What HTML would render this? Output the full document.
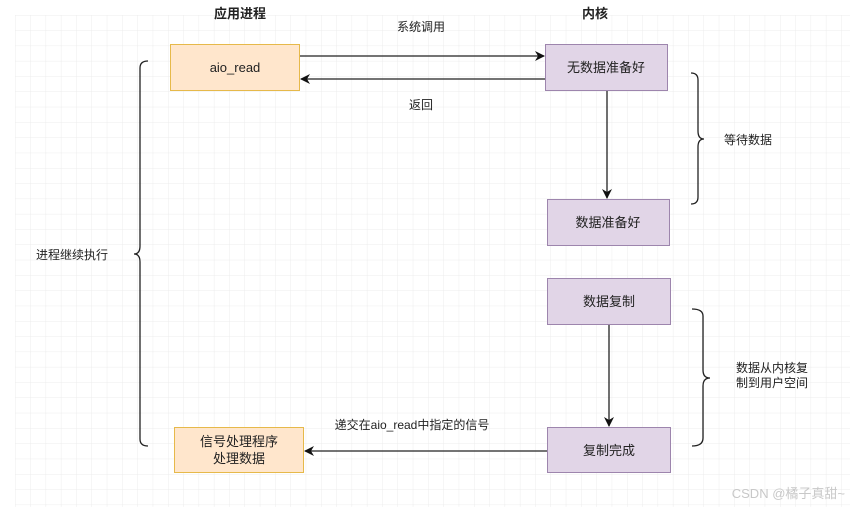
<!DOCTYPE html>
<html><head><meta charset="utf-8"><style>
html,body{margin:0;padding:0;background:#fff;}
body{width:850px;height:507px;overflow:hidden;}
svg text{font-family:"Liberation Sans","Noto Sans CJK SC",sans-serif;fill:#222;}
</style></head><body>
<svg width="850" height="507" viewBox="0 0 850 507" xmlns="http://www.w3.org/2000/svg">
<defs>
<pattern id="g" x="15" y="15" width="15.3" height="15.3" patternUnits="userSpaceOnUse">
<path d="M0 0H15.3M0 0V15.3" stroke="#ececec" stroke-width="1" fill="none"/>
</pattern>
<marker id="a" markerWidth="10" markerHeight="10" refX="9" refY="5" orient="auto" markerUnits="userSpaceOnUse">
<path d="M0 0L10 5L0 10L3 5Z" fill="#111"/>
</marker>
</defs>
<rect x="15" y="15" width="835" height="492" fill="url(#g)"/>

<text x="240" y="18" font-size="13" font-weight="bold" text-anchor="middle">应用进程</text>
<text x="595" y="18" font-size="13" font-weight="bold" text-anchor="middle">内核</text>

<rect x="170.5" y="44.5" width="129" height="46" fill="#ffe6cc" stroke="#e6b94a"/>
<text x="235" y="72" font-size="13" text-anchor="middle">aio_read</text>

<rect x="545.5" y="44.5" width="122" height="46" fill="#e1d5e7" stroke="#9d85ad"/>
<text x="606" y="72" font-size="13" text-anchor="middle">无数据准备好</text>

<rect x="547.5" y="199.5" width="122" height="46" fill="#e1d5e7" stroke="#9d85ad"/>
<text x="608" y="227" font-size="13" text-anchor="middle">数据准备好</text>

<rect x="547.5" y="278.5" width="123" height="46" fill="#e1d5e7" stroke="#9d85ad"/>
<text x="609" y="306" font-size="13" text-anchor="middle">数据复制</text>

<rect x="547.5" y="427.5" width="123" height="45" fill="#e1d5e7" stroke="#9d85ad"/>
<text x="609" y="455" font-size="13" text-anchor="middle">复制完成</text>

<rect x="174.5" y="427.5" width="129" height="45" fill="#ffe6cc" stroke="#e6b94a"/>
<text x="239" y="446" font-size="13" text-anchor="middle">信号处理程序</text>
<text x="239" y="463" font-size="13" text-anchor="middle">处理数据</text>

<g stroke="#222" stroke-width="1.3" fill="none">
<path d="M300 56H544" marker-end="url(#a)"/>
<path d="M545 79H301" marker-end="url(#a)"/>
<path d="M607 91V198" marker-end="url(#a)"/>
<path d="M609 325V426" marker-end="url(#a)"/>
<path d="M547 451H305" marker-end="url(#a)"/>
<path d="M148 61Q140 61 140 68V246Q140 254 134 254Q140 254 140 262V439Q140 446 148 446"/>
<path d="M691 73Q698 73 698 80V131Q698 139 704 139Q698 139 698 147V197Q698 204 691 204"/>
<path d="M692 309Q703 309 703 316V370Q703 378 710 378Q703 378 703 386V438Q703 446 692 446"/>
</g>

<text x="421" y="31" font-size="12" text-anchor="middle">系统调用</text>
<text x="421" y="109" font-size="12" text-anchor="middle">返回</text>
<text x="748" y="144" font-size="12" text-anchor="middle">等待数据</text>
<text x="72" y="259" font-size="12" text-anchor="middle">进程继续执行</text>
<text x="772" y="372" font-size="12" text-anchor="middle">数据从内核复</text>
<text x="772" y="387" font-size="12" text-anchor="middle">制到用户空间</text>
<text x="412" y="429" font-size="12" text-anchor="middle">递交在aio_read中指定的信号</text>
<text x="845" y="498" font-size="13" text-anchor="end" style="fill:#c8c8c8">CSDN @橘子真甜~</text>
</svg>
</body></html>
